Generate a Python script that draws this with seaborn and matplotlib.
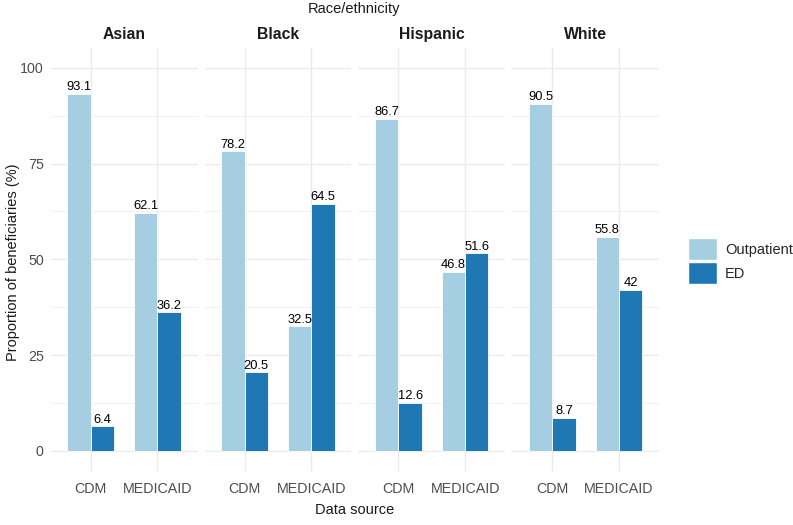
import matplotlib
matplotlib.use("Agg")
import matplotlib.pyplot as plt
import seaborn as sns
import pandas as pd
from matplotlib.patches import Patch
from matplotlib.ticker import MultipleLocator

groups = ["Asian", "Black", "Hispanic", "White"]
sources = ["CDM", "MEDICAID"]
settings = ["Outpatient", "ED"]
outpatient_cdm = [93.1, 78.2, 86.7, 90.5]
ed_cdm = [6.4, 20.5, 12.6, 8.7]
outpatient_medicaid = [62.1, 32.5, 46.8, 55.8]
ed_medicaid = [36.2, 64.5, 51.6, 42.0]
colors = ["#A6CEE3", "#1F78B4"]

rows = []
for i, g in enumerate(groups):
    rows.append((g, "CDM", "Outpatient", outpatient_cdm[i]))
    rows.append((g, "CDM", "ED", ed_cdm[i]))
    rows.append((g, "MEDICAID", "Outpatient", outpatient_medicaid[i]))
    rows.append((g, "MEDICAID", "ED", ed_medicaid[i]))
df = pd.DataFrame(rows, columns=["group", "source", "setting", "value"])

sns.set_theme(style="white")
plt.rcParams["font.family"] = ["Liberation Sans", "DejaVu Sans"]

fig, axes = plt.subplots(1, 4, figsize=(7.93, 5.25), dpi=100, sharey=True)
fig.subplots_adjust(left=0.064, right=0.831, top=0.909, bottom=0.103, wspace=0.048)

grid_c = "#EBEBEB"
for ax, g in zip(axes, groups):
    sub = df[df["group"] == g]
    sns.barplot(data=sub, x="source", y="value", hue="setting",
                order=sources, hue_order=settings, palette=colors,
                width=0.7, gap=0, ax=ax, edgecolor="white", linewidth=0.6,
                legend=False, errorbar=None, saturation=1)
    for cont in ax.containers:
        ax.bar_label(cont, labels=[f"{v:g}" for v in cont.datavalues],
                     fontsize=9.3, color="black", padding=0.5)
    ax.set_xlim(-0.6, 1.6)
    ax.set_ylim(-5.2, 105.2)
    ax.yaxis.set_major_locator(MultipleLocator(25))
    ax.yaxis.set_minor_locator(MultipleLocator(12.5))
    ax.set_axisbelow(True)
    ax.grid(which="major", axis="both", color=grid_c, linewidth=1.0)
    ax.grid(which="minor", axis="y", color=grid_c, linewidth=0.5)
    for s in ax.spines.values():
        s.set_visible(False)
    ax.tick_params(axis="both", which="both", length=0, labelsize=10.3,
                   labelcolor="#4D4D4D", pad=5)
    ax.tick_params(axis="x", pad=8)
    ax.set_xlabel("")
    ax.set_ylabel("")
    ax.set_title(g, fontsize=11.3, fontweight="bold", color="#1A1A1A", pad=6)

axes[0].set_yticks([0, 25, 50, 75, 100])

fig.text(0.447, 0.983, "Race/ethnicity", ha="center", va="center", fontsize=10.5, color="#1A1A1A")
fig.text(0.447, 0.029, "Data source", ha="center", va="center", fontsize=10.5, color="#1A1A1A")
fig.text(0.016, 0.5, "Proportion of beneficiaries (%)", ha="center", va="center",
         rotation=90, fontsize=10.5, color="#1A1A1A")

handles = [Patch(facecolor=c, edgecolor="white", label=l) for c, l in zip(colors, settings)]
fig.legend(handles=handles, loc="center left", bbox_to_anchor=(0.860, 0.503),
           frameon=False, fontsize=10.5, handlelength=2.0, handleheight=2.0,
           handletextpad=0.55, labelspacing=0.1, borderaxespad=0)

fig.savefig("out.png", dpi=100)
